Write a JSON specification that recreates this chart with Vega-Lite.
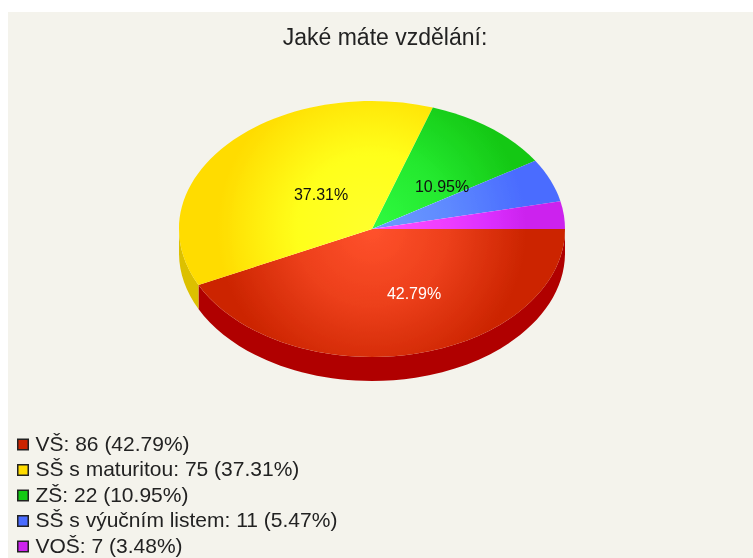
{
  "$schema": "https://vega.github.io/schema/vega-lite/v6.json",
  "width": 753,
  "height": 558,
  "autosize": {"type": "fit", "contains": "padding"},
  "padding": {"left": 8, "top": 12, "right": 0, "bottom": 0},
  "background": "#ffffff",
  "config": {"view": {"fill": "#f4f3ec", "stroke": null}, "font": "Liberation Sans"},
  "title": {"text": "Jaké máte vzdělání:", "orient": "top", "anchor": "middle", "frame": "group", "offset": -38, "dx": 4.5, "fontSize": 23, "fontWeight": "normal", "color": "#222222", "font": "Liberation Sans"},
  "datasets": {
    "education": [
      {"slice": "VŠ", "legend": "VŠ: 86 (42.79%)", "count": 86, "share": "42.79%", "labelX": 0.2176, "labelY": -0.3368},
      {"slice": "SŠ s maturitou", "legend": "SŠ s maturitou: 75 (37.31%)", "count": 75, "share": "37.31%", "labelX": -0.2642, "labelY": 0.1762},
      {"slice": "ZŠ", "legend": "ZŠ: 22 (10.95%)", "count": 22, "share": "10.95%", "labelX": 0.3627, "labelY": 0.2176},
      {"slice": "SŠ s výučním listem", "legend": "SŠ s výučním listem: 11 (5.47%)", "count": 11, "share": "5.47%"},
      {"slice": "VOŠ", "legend": "VOŠ: 7 (3.48%)", "count": 7, "share": "3.48%"}
    ]
  },
  "data": {"name": "education"},
  "layer": [
    {
      "transform": [{"filter": "datum.count >= 75"}],
      "mark": {"type": "point", "filled": true, "opacity": 1, "size": 148996, "strokeWidth": 0},
      "encoding": {
        "x": {"datum": 0, "type": "quantitative", "scale": {"domain": [-1.886, 1.974], "nice": false, "zero": false}, "axis": null},
        "y": {"datum": 0, "type": "quantitative", "scale": {"domain": [-1.7047, 1.1244], "nice": false, "zero": false}, "axis": null},
        "fill": {"field": "slice", "type": "nominal", "legend": null, "scale": {"domain": ["VŠ", "SŠ s maturitou"], "range": ["#b00000", "#dcc000"]}},
        "shape": {"field": "slice", "type": "nominal", "legend": null, "scale": {"domain": ["VŠ", "SŠ s maturitou"], "range": [
          "M1,0 A1,.663 0 0 1 -.8991,.2903 L-.8991,.4143 A1,.663 0 0 0 1,.124 Z",
          "M-.8991,.2903 A1,.663 0 0 1 -1,0 L-1,.124 A1,.663 0 0 0 -.8991,.4143 Z"
        ]}}
      }
    },
    {
      "mark": {"type": "point", "filled": true, "opacity": 1, "size": 148996, "strokeWidth": 0},
      "encoding": {
        "x": {"datum": 0, "type": "quantitative", "scale": {"domain": [-1.886, 1.974], "nice": false, "zero": false}, "axis": null},
        "y": {"datum": 0, "type": "quantitative", "scale": {"domain": [-1.7047, 1.1244], "nice": false, "zero": false}, "axis": null},
        "fill": {
          "field": "legend",
          "type": "nominal",
          "sort": null,
          "scale": {
            "domain": ["VŠ: 86 (42.79%)", "SŠ s maturitou: 75 (37.31%)", "ZŠ: 22 (10.95%)", "SŠ s výučním listem: 11 (5.47%)", "VOŠ: 7 (3.48%)"],
            "range": ["#cc2400", "#ffdc00", "#14c814", "#4a6cff", "#cc22ee"]
          },
          "legend": {
            "title": null,
            "orient": "none",
            "legendX": 4.5,
            "legendY": 422,
            "symbolType": "square",
            "symbolSize": 110,
            "symbolStrokeColor": "#222222",
            "symbolStrokeWidth": 1.5,
            "symbolOpacity": 1,
            "labelFont": "Liberation Sans",
            "labelFontSize": 21,
            "labelColor": "#222222",
            "labelLimit": 400,
            "labelOffset": 2,
            "rowPadding": 3.5,
            "padding": 0
          }
        },
        "shape": {"field": "slice", "type": "nominal", "legend": null, "scale": {
          "domain": ["VŠ", "SŠ s maturitou", "ZŠ", "SŠ s výučním listem", "VOŠ"],
          "range": [
            "M0,0 L-.8991,.2903 A1,.663 0 0 0 1,0 Z",
            "M0,0 L.315,-.6292 A1,.663 0 0 0 -.8991,.2903 Z",
            "M0,0 L.846,-.3535 A1,.663 0 0 0 .315,-.6292 Z",
            "M0,0 L.9762,-.1438 A1,.663 0 0 0 .846,-.3535 Z",
            "M0,0 L1,0 A1,.663 0 0 0 .9762,-.1438 Z"
          ]
        }}
      }
    },
    {
      "transform": [{"filter": "datum.slice === 'VŠ'"}],
      "mark": {
        "type": "point", "filled": true, "opacity": 1, "size": 148996, "strokeWidth": 0,
        "blend": "color-dodge",
        "shape": "M-1,0 A1,.663 0 1 0 1,0 A1,.663 0 1 0 -1,0 Z",
        "fill": {"gradient": "radial", "x1": 0.5, "y1": 0.5, "r1": 0, "x2": 0.5, "y2": 0.5, "r2": 0.5, "stops": [{"offset": 0, "color": "#333333"}, {"offset": 0.4, "color": "#222222"}, {"offset": 0.8, "color": "#000000"}, {"offset": 1, "color": "#000000"}]}
      },
      "encoding": {
        "x": {"datum": 0, "type": "quantitative", "scale": {"domain": [-1.886, 1.974], "nice": false, "zero": false}, "axis": null},
        "y": {"datum": 0, "type": "quantitative", "scale": {"domain": [-1.7047, 1.1244], "nice": false, "zero": false}, "axis": null}
      }
    },
    {
      "transform": [{"filter": "datum.slice === 'VŠ'"}],
      "mark": {
        "type": "point", "filled": true, "opacity": 1, "size": 148996, "strokeWidth": 0,
        "blend": "screen",
        "shape": "M-1,0 A1,.663 0 1 0 1,0 A1,.663 0 1 0 -1,0 Z",
        "fill": {"gradient": "radial", "x1": 0.5, "y1": 0.5, "r1": 0, "x2": 0.5, "y2": 0.5, "r2": 0.5, "stops": [{"offset": 0, "color": "#192c2c"}, {"offset": 0.4, "color": "#0e1a1a"}, {"offset": 0.8, "color": "#000000"}, {"offset": 1, "color": "#000000"}]}
      },
      "encoding": {
        "x": {"datum": 0, "type": "quantitative", "scale": {"domain": [-1.886, 1.974], "nice": false, "zero": false}, "axis": null},
        "y": {"datum": 0, "type": "quantitative", "scale": {"domain": [-1.7047, 1.1244], "nice": false, "zero": false}, "axis": null}
      }
    },
    {
      "transform": [{"filter": "datum.count >= 22"}],
      "mark": {"type": "text", "font": "Liberation Sans", "fontSize": 16, "baseline": "middle", "align": "center"},
      "encoding": {
        "x": {"field": "labelX", "type": "quantitative", "scale": {"domain": [-1.886, 1.974], "nice": false, "zero": false}, "axis": null},
        "y": {"field": "labelY", "type": "quantitative", "scale": {"domain": [-1.7047, 1.1244], "nice": false, "zero": false}, "axis": null},
        "text": {"field": "share", "type": "nominal"},
        "color": {"condition": {"test": "datum.slice === 'VŠ'", "value": "#ffffff"}, "value": "#111111"}
      }
    }
  ],
  "resolve": {"scale": {"fill": "independent", "shape": "independent"}}
}
